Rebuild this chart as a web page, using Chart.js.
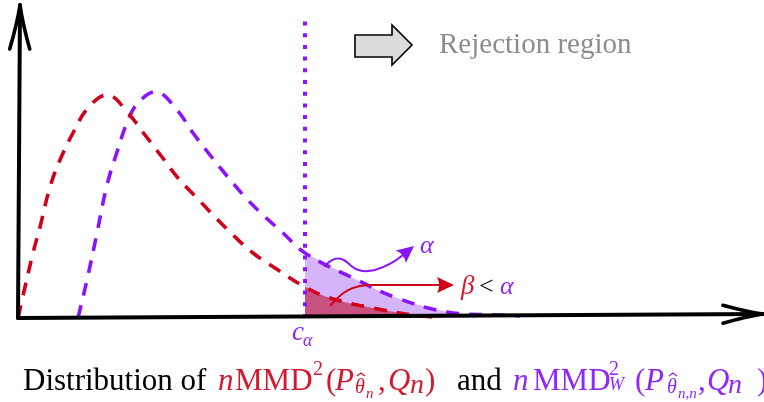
<!DOCTYPE html>
<html><head><meta charset="utf-8">
<script src="https://cdn.jsdelivr.net/npm/chart.js@4/dist/chart.umd.min.js"></script>
<style>html,body{margin:0;padding:0;background:#fff;}#wrap{width:764px;height:402px;position:relative;}</style>
</head><body><div id="wrap"><canvas id="c"></canvas></div>
<script>
// ---- data (diagram units) ----
const redX = [0, 0.4, 1.5, 2.2, 3.2, 4.2, 5.5, 7.0, 9.0, 11.0, 12.7, 14.4, 16.0, 17.9, 19.7, 21.5, 23.5, 25.7, 28.7, 31.2, 35.5, 39.5, 42.2];
const redY = [0, 1.8, 6.5, 9.1, 13.1, 15.8, 18.5, 21.0, 22.3, 20.5, 18.3, 16.1, 14.0, 12.0, 10.1, 8.3, 6.5, 5.0, 3.1, 2.0, 1.0, 0.3, 0.05];
const purpleX = [6.0, 6.9, 7.9, 8.9, 9.9, 10.9, 12.0, 13.9, 15.9, 17.5, 19.2, 20.9, 22.7, 24.5, 26.5, 28.7, 33.9, 37.9, 42.9, 47.9, 50.2];
const purpleY = [0, 3.8, 8.5, 13.3, 16.6, 19.5, 21.5, 22.6, 20.8, 18.5, 16.3, 14.2, 12.1, 10.3, 8.5, 6.5, 3.8, 2.0, 0.6, 0.3, 0.2];
const cAlpha = 28.7;
const purpleTailX = [28.7, 33.9, 37.9, 42.9, 46.0];
const purpleTailY = [6.5, 3.8, 2.0, 0.6, 0.05];
const redTailX = [28.7, 31.2, 35.5, 39.5, 42.2];
const redTailY = [3.1, 2.0, 1.0, 0.3, 0.05];
const thresholdTop = 30.0;
const xRange = [-1.8, 74.6];
const yRange = [-8.4, 31.8];
const xAxisEnd = [74.5, 0.4];
const yAxisEnd = [0.2, 31.3];

const RED = '#d0021b', PURPLE = '#8b14ff', LAV = '#d6b4fb', REDFILL = '#c9517f';
const RED_T = '#d4182e', PURPLE_T = '#9026ff';
const SERIF = '"Liberation Serif", "DejaVu Serif", serif';

const pts = (xs, ys) => xs.map((x, i) => ({x: x, y: ys[i]}));

function arrowHead(ctx, tx, ty, dx, dy, L, W) {
  const n = Math.hypot(dx, dy); dx /= n; dy /= n;
  const px = -dy, py = dx;
  const bx = tx - dx * L, by = ty - dy * L;
  ctx.beginPath();
  ctx.moveTo(bx + px * W, by + py * W);
  ctx.quadraticCurveTo(tx - dx * L * 0.4 + px * W * 0.25, ty - dy * L * 0.4 + py * W * 0.25, tx, ty);
  ctx.quadraticCurveTo(tx - dx * L * 0.4 - px * W * 0.25, ty - dy * L * 0.4 - py * W * 0.25, bx - px * W, by - py * W);
  ctx.stroke();
}
function triHead(ctx, tx, ty, dx, dy, L, W, color) {
  const n = Math.hypot(dx, dy); dx /= n; dy /= n;
  const px = -dy, py = dx;
  const bx = tx - dx * L, by = ty - dy * L;
  ctx.fillStyle = color;
  ctx.beginPath();
  ctx.moveTo(tx, ty);
  ctx.lineTo(bx + px * W, by + py * W);
  ctx.quadraticCurveTo(tx - dx * L * 0.75, ty - dy * L * 0.75, bx - px * W, by - py * W);
  ctx.closePath();
  ctx.fill();
}
function txt(ctx, s, x, y, size, italic, color) {
  ctx.font = (italic ? 'italic ' : '') + size + 'px ' + SERIF;
  ctx.fillStyle = color;
  ctx.textAlign = 'left';
  ctx.textBaseline = 'alphabetic';
  ctx.fillText(s, x, y);
}
function hat(ctx, x, y, color) {
  ctx.strokeStyle = color; ctx.lineWidth = 1.2; ctx.lineCap = 'butt';
  ctx.beginPath(); ctx.moveTo(x, y + 3); ctx.lineTo(x + 4, y); ctx.lineTo(x + 8, y + 3); ctx.stroke();
}

const decor = {
  id: 'decor',
  afterDatasetsDraw(chart) {
    const ctx = chart.ctx, xs = chart.scales.x, ys = chart.scales.y;
    const X = v => xs.getPixelForValue(v), Y = v => ys.getPixelForValue(v);
    const ox = X(0), oy = Y(0);
    ctx.save();
    // axes
    ctx.strokeStyle = '#000'; ctx.lineWidth = 4; ctx.lineCap = 'round'; ctx.lineJoin = 'round';
    ctx.beginPath(); ctx.moveTo(ox, oy); ctx.lineTo(X(xAxisEnd[0]), Y(xAxisEnd[1])); ctx.stroke();
    ctx.beginPath(); ctx.moveTo(ox, oy); ctx.lineTo(X(yAxisEnd[0]), Y(yAxisEnd[1])); ctx.stroke();
    ctx.lineWidth = 3.6;
    arrowHead(ctx, X(xAxisEnd[0]), Y(xAxisEnd[1]), X(xAxisEnd[0]) - ox, Y(xAxisEnd[1]) - oy, 40, 9);
    arrowHead(ctx, X(yAxisEnd[0]), Y(yAxisEnd[1]), X(yAxisEnd[0]) - ox, Y(yAxisEnd[1]) - oy, 44, 10);

    const xc = X(cAlpha), y0 = oy;
    // block arrow
    const top = chart.chartArea.top;
    ctx.fillStyle = '#dcdcdc'; ctx.strokeStyle = '#000'; ctx.lineWidth = 1.6; ctx.lineJoin = 'miter';
    ctx.beginPath();
    ctx.moveTo(xc + 50, top + 35); ctx.lineTo(xc + 87, top + 35); ctx.lineTo(xc + 87, top + 25);
    ctx.lineTo(xc + 107, top + 45); ctx.lineTo(xc + 87, top + 65); ctx.lineTo(xc + 87, top + 57);
    ctx.lineTo(xc + 50, top + 57); ctx.closePath(); ctx.fill(); ctx.stroke();
    txt(ctx, 'Rejection region', xc + 134, top + 53, 29, false, '#8c8c8c');

    // purple squiggle arrow
    ctx.strokeStyle = PURPLE; ctx.lineWidth = 2; ctx.lineCap = 'round';
    ctx.beginPath();
    ctx.moveTo(xc + 20, y0 - 52);
    ctx.bezierCurveTo(xc + 28, y0 - 61, xc + 35, y0 - 62, xc + 43, y0 - 55);
    ctx.bezierCurveTo(xc + 50, y0 - 48, xc + 57, y0 - 45, xc + 70, y0 - 48);
    ctx.bezierCurveTo(xc + 83, y0 - 52, xc + 92, y0 - 58, xc + 98, y0 - 63);
    ctx.stroke();
    triHead(ctx, xc + 109, y0 - 72, 11, -9, 17, 8, PURPLE);
    // red arrow
    ctx.strokeStyle = RED; ctx.lineWidth = 2;
    ctx.beginPath();
    ctx.moveTo(xc + 26, y0 - 13);
    ctx.bezierCurveTo(xc + 37, y0 - 26, xc + 47, y0 - 33, xc + 67, y0 - 33);
    ctx.lineTo(xc + 134, y0 - 33);
    ctx.stroke();
    triHead(ctx, xc + 149, y0 - 33, 1, 0, 17, 8, RED);

    // labels
    txt(ctx, 'α', xc + 115, y0 - 65, 26, true, PURPLE_T);
    txt(ctx, 'β', xc + 156, y0 - 24, 27, true, RED_T);
    txt(ctx, '<', xc + 174, y0 - 24, 26, false, '#000');
    txt(ctx, 'α', xc + 195, y0 - 24, 26, true, PURPLE_T);
    txt(ctx, 'c', xc - 13, y0 + 22, 27, true, PURPLE_T);
    txt(ctx, 'α', xc - 2, y0 + 28, 18, true, PURPLE_T);

    // caption
    const B = 390, F = 31;
    txt(ctx, 'Distribution of', 23, B, F, false, '#000');
    txt(ctx, 'n', 218, B, F, true, RED_T);
    txt(ctx, 'MMD', 235, B, F, false, RED_T);
    txt(ctx, '2', 313, B - 15, 20, false, RED_T);
    txt(ctx, '(', 326, B, F, false, RED_T);
    txt(ctx, 'P', 335, B, F, true, RED_T);
    txt(ctx, 'θ', 355, B + 3, 20, true, RED_T);
    hat(ctx, 357, B - 17, RED_T);
    txt(ctx, 'n', 366, B + 8, 15, true, RED_T);
    txt(ctx, ',', 378, B, F, false, RED_T);
    txt(ctx, 'Q', 388, B, F, true, RED_T);
    txt(ctx, 'n', 410, B + 3, 28, true, RED_T);
    txt(ctx, ')', 425, B, F, false, RED_T);
    txt(ctx, 'and', 457, B, F, false, '#000');
    txt(ctx, 'n', 513, B, F, true, PURPLE_T);
    txt(ctx, 'MMD', 533, B, F, false, PURPLE_T);
    txt(ctx, '2', 609, B - 15, 20, false, PURPLE_T);
    txt(ctx, 'W', 609, B, 18, true, PURPLE_T);
    txt(ctx, '(', 635, B, F, false, PURPLE_T);
    txt(ctx, 'P', 645, B, F, true, PURPLE_T);
    txt(ctx, 'θ', 667, B + 3, 20, true, PURPLE_T);
    hat(ctx, 669, B - 17, PURPLE_T);
    txt(ctx, 'n,n', 678, B + 8, 15, true, PURPLE_T);
    txt(ctx, ',', 698, B, F, false, PURPLE_T);
    txt(ctx, 'Q', 707, B, F, true, PURPLE_T);
    txt(ctx, 'n', 728, B + 3, 28, true, PURPLE_T);
    txt(ctx, ')', 757, B, F, false, PURPLE_T);
    ctx.restore();
  }
};

new Chart(document.getElementById('c'), {
  type: 'line',
  data: {
    datasets: [
      {data: pts(redX, redY), borderColor: RED, borderWidth: 3.6, borderDash: [13, 10], tension: 0.4, fill: false, order: 2},
      {data: pts(purpleX, purpleY), borderColor: PURPLE, borderWidth: 3.6, borderDash: [13, 10], tension: 0.4, fill: false, order: 3},
      {data: pts([cAlpha, cAlpha], [0, thresholdTop]), borderColor: PURPLE, borderWidth: 4, borderDash: [4, 7.7], borderCapStyle: 'butt', tension: 0, fill: false, order: 1},
      {data: pts(redTailX, redTailY), borderWidth: 0, borderColor: 'rgba(0,0,0,0)', backgroundColor: REDFILL, tension: 0.4, fill: 'origin', order: 4},
      {data: pts(purpleTailX, purpleTailY), borderWidth: 0, borderColor: 'rgba(0,0,0,0)', backgroundColor: LAV, tension: 0.4, fill: 'origin', order: 5}
    ]
  },
  options: {
    responsive: true, maintainAspectRatio: false, animation: false,
    layout: {padding: 0},
    elements: {point: {radius: 0, hoverRadius: 0}},
    plugins: {legend: {display: false}, tooltip: {enabled: false}},
    scales: {
      x: {type: 'linear', min: xRange[0], max: xRange[1], display: false},
      y: {type: 'linear', min: yRange[0], max: yRange[1], display: false}
    }
  },
  plugins: [decor]
});
</script>
</body></html>
